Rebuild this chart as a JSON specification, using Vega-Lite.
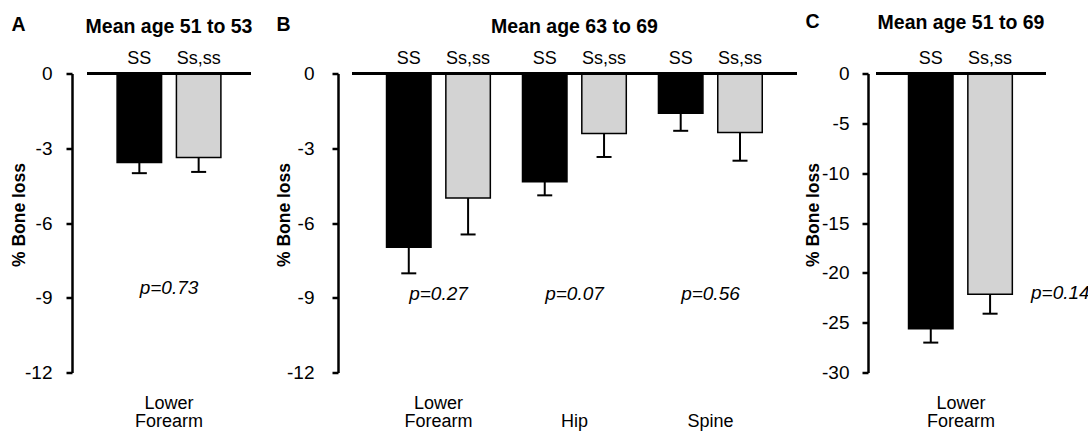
{
  "$schema": "https://vega.github.io/schema/vega-lite/v6.json",
  "padding": {"left": 10, "top": 10.5, "right": 0, "bottom": 0},
  "background": "white",
  "config": {
    "view": {"stroke": null},
    "font": "Liberation Sans",
    "axis": {"labelColor": "black", "titleColor": "black", "grid": false},
    "title": {"fontSize": 19.5, "fontWeight": "bold", "color": "black", "anchor": "middle", "frame": "group", "baseline": "alphabetic", "offset": -22.5}
  },
  "spacing": 5,
  "datasets": {
    "bars": [
      {"panel": "A", "site": "Lower Forearm", "genotype": "SS", "value": -3.57, "lower": -4.0},
      {"panel": "A", "site": "Lower Forearm", "genotype": "Ss,ss", "value": -3.37, "lower": -3.95},
      {"panel": "B", "site": "Lower Forearm", "genotype": "SS", "value": -6.97, "lower": -8.02},
      {"panel": "B", "site": "Lower Forearm", "genotype": "Ss,ss", "value": -5.0, "lower": -6.46},
      {"panel": "B", "site": "Hip", "genotype": "SS", "value": -4.34, "lower": -4.89},
      {"panel": "B", "site": "Hip", "genotype": "Ss,ss", "value": -2.41, "lower": -3.35},
      {"panel": "B", "site": "Spine", "genotype": "SS", "value": -1.6, "lower": -2.3},
      {"panel": "B", "site": "Spine", "genotype": "Ss,ss", "value": -2.37, "lower": -3.5},
      {"panel": "C", "site": "Lower Forearm", "genotype": "SS", "value": -25.6, "lower": -27.0},
      {"panel": "C", "site": "Lower Forearm", "genotype": "Ss,ss", "value": -22.15, "lower": -24.1}
    ],
    "pvals": [
      {"panel": "A", "site": "Lower Forearm", "label": "p=0.73"},
      {"panel": "B", "site": "Lower Forearm", "label": "p=0.27"},
      {"panel": "B", "site": "Hip", "label": "p=0.07"},
      {"panel": "B", "site": "Spine", "label": "p=0.56"},
      {"panel": "C", "site": "Lower Forearm", "label": "p=0.14"}
    ],
    "blank": [{}]
  },
  "hconcat": [
    {
      "spacing": 22,
      "hconcat": [
        {
          "width": 164,
          "height": 299,
          "title": {"text": "Mean age 51 to 53"},
          "layer": [
            {
              "data": {"name": "bars"},
              "transform": [{"filter": "datum.panel == 'A'"}],
              "mark": {"type": "bar", "stroke": "black", "strokeWidth": 1.5},
              "encoding": {
                "x": {"field": "site", "type": "nominal", "scale": {"domain": ["Lower Forearm"], "paddingInner": 0, "paddingOuter": 0.29},
                  "axis": {"title": "A", "titleX": -76, "titleY": -342, "titleAlign": "left", "titleBaseline": "alphabetic", "titleFontSize": 19.5, "titleFontWeight": "bold", "titleAngle": 0,
                    "domain": false, "ticks": false, "labelAngle": 0, "labelFontSize": 18, "labelPadding": 21.5, "labelLineHeight": 18, "labelBaseline": "top",
                    "labelExpr": "datum.label == 'Lower Forearm' ? ['Lower', 'Forearm'] : ['', datum.label]"}},
                "xOffset": {"field": "genotype", "type": "nominal", "scale": {"domain": ["SS", "Ss,ss"], "paddingInner": 0.25, "paddingOuter": 0}},
                "y": {"field": "value", "type": "quantitative", "scale": {"domain": [-12, 0], "nice": false, "zero": false},
                  "axis": {"title": "% Bone loss", "titleFontSize": 17.5, "titleFontWeight": "bold", "titleX": -48, "titleY": 141, "titleBaseline": "alphabetic",
                    "labelFontSize": 19, "labelPadding": 14, "labelExpr": "toString(datum.value)",
                    "domainColor": "black", "domainWidth": 2.5, "tickColor": "black", "tickWidth": 2.5, "tickSize": 6, "offset": 15, "values": [0, -3, -6, -9, -12]}},
                "color": {"field": "genotype", "type": "nominal", "scale": {"domain": ["SS", "Ss,ss"], "range": ["#000000", "#d3d3d3"]}, "legend": null}
              }
            },
            {
              "data": {"name": "bars"},
              "transform": [{"filter": "datum.panel == 'A'"}],
              "mark": {"type": "rule", "color": "black", "strokeWidth": 2},
              "encoding": {
                "x": {"field": "site", "type": "nominal", "scale": {"domain": ["Lower Forearm"], "paddingInner": 0, "paddingOuter": 0.29}},
                "xOffset": {"field": "genotype", "type": "nominal", "scale": {"domain": ["SS", "Ss,ss"], "paddingInner": 0.25, "paddingOuter": 0}},
                "y": {"field": "value", "type": "quantitative", "scale": {"domain": [-12, 0], "nice": false, "zero": false}},
                "y2": {"field": "lower"}
              }
            },
            {
              "data": {"name": "bars"},
              "transform": [{"filter": "datum.panel == 'A'"}],
              "mark": {"type": "tick", "color": "black", "thickness": 2, "size": 15, "orient": "horizontal", "opacity": 1},
              "encoding": {
                "x": {"field": "site", "type": "nominal", "scale": {"domain": ["Lower Forearm"], "paddingInner": 0, "paddingOuter": 0.29}},
                "xOffset": {"field": "genotype", "type": "nominal", "scale": {"domain": ["SS", "Ss,ss"], "paddingInner": 0.25, "paddingOuter": 0}},
                "y": {"field": "lower", "type": "quantitative", "scale": {"domain": [-12, 0], "nice": false, "zero": false}}
              }
            },
            {
              "data": {"name": "blank"},
              "mark": {"type": "rule", "color": "black", "strokeWidth": 3},
              "encoding": {"y": {"datum": 0, "type": "quantitative", "scale": {"domain": [-12, 0], "nice": false, "zero": false}}}
            },
            {
              "data": {"name": "bars"},
              "transform": [{"filter": "datum.panel == 'A'"}],
              "mark": {"type": "text", "fontSize": 18, "baseline": "alphabetic", "dy": -10, "color": "black"},
              "encoding": {
                "x": {"field": "site", "type": "nominal", "scale": {"domain": ["Lower Forearm"], "paddingInner": 0, "paddingOuter": 0.29}},
                "xOffset": {"field": "genotype", "type": "nominal", "scale": {"domain": ["SS", "Ss,ss"], "paddingInner": 0.25, "paddingOuter": 0}},
                "y": {"datum": 0, "type": "quantitative", "scale": {"domain": [-12, 0], "nice": false, "zero": false}},
                "text": {"field": "genotype"}
              }
            },
            {
              "data": {"name": "pvals"},
              "transform": [{"filter": "datum.panel == 'A'"}],
              "mark": {"type": "text", "fontSize": 19, "fontStyle": "italic", "baseline": "middle", "color": "black"},
              "encoding": {
                "x": {"field": "site", "type": "nominal", "scale": {"domain": ["Lower Forearm"], "paddingInner": 0, "paddingOuter": 0.29}},
                "y": {"datum": -8.6, "type": "quantitative", "scale": {"domain": [-12, 0], "nice": false, "zero": false}},
                "text": {"field": "label"}
              }
            }
          ]
        },
        {
          "width": 445,
          "height": 299,
          "title": {"text": "Mean age 63 to 69"},
          "layer": [
            {
              "data": {"name": "bars"},
              "transform": [{"filter": "datum.panel == 'B'"}],
              "mark": {"type": "bar", "stroke": "black", "strokeWidth": 1.5},
              "encoding": {
                "x": {"field": "site", "type": "nominal", "scale": {"domain": ["Lower Forearm", "Hip", "Spine"], "paddingInner": 0.235, "paddingOuter": 0.254},
                  "axis": {"title": "B", "titleX": -76, "titleY": -342, "titleAlign": "left", "titleBaseline": "alphabetic", "titleFontSize": 19.5, "titleFontWeight": "bold", "titleAngle": 0,
                    "domain": false, "ticks": false, "labelAngle": 0, "labelFontSize": 18, "labelPadding": 21.5, "labelLineHeight": 18, "labelBaseline": "top",
                    "labelExpr": "datum.label == 'Lower Forearm' ? ['Lower', 'Forearm'] : ['', datum.label]"}},
                "xOffset": {"field": "genotype", "type": "nominal", "scale": {"domain": ["SS", "Ss,ss"], "paddingInner": 0.25, "paddingOuter": 0}},
                "y": {"field": "value", "type": "quantitative", "scale": {"domain": [-12, 0], "nice": false, "zero": false},
                  "axis": {"title": "% Bone loss", "titleFontSize": 17.5, "titleFontWeight": "bold", "titleX": -49, "titleY": 141, "titleBaseline": "alphabetic",
                    "labelFontSize": 19, "labelPadding": 18, "labelExpr": "toString(datum.value)",
                    "domainColor": "black", "domainWidth": 2.5, "tickColor": "black", "tickWidth": 2.5, "tickSize": 6, "offset": 14, "values": [0, -3, -6, -9, -12]}},
                "color": {"field": "genotype", "type": "nominal", "scale": {"domain": ["SS", "Ss,ss"], "range": ["#000000", "#d3d3d3"]}, "legend": null}
              }
            },
            {
              "data": {"name": "bars"},
              "transform": [{"filter": "datum.panel == 'B'"}],
              "mark": {"type": "rule", "color": "black", "strokeWidth": 2},
              "encoding": {
                "x": {"field": "site", "type": "nominal", "scale": {"domain": ["Lower Forearm", "Hip", "Spine"], "paddingInner": 0.235, "paddingOuter": 0.254}},
                "xOffset": {"field": "genotype", "type": "nominal", "scale": {"domain": ["SS", "Ss,ss"], "paddingInner": 0.25, "paddingOuter": 0}},
                "y": {"field": "value", "type": "quantitative", "scale": {"domain": [-12, 0], "nice": false, "zero": false}},
                "y2": {"field": "lower"}
              }
            },
            {
              "data": {"name": "bars"},
              "transform": [{"filter": "datum.panel == 'B'"}],
              "mark": {"type": "tick", "color": "black", "thickness": 2, "size": 15, "orient": "horizontal", "opacity": 1},
              "encoding": {
                "x": {"field": "site", "type": "nominal", "scale": {"domain": ["Lower Forearm", "Hip", "Spine"], "paddingInner": 0.235, "paddingOuter": 0.254}},
                "xOffset": {"field": "genotype", "type": "nominal", "scale": {"domain": ["SS", "Ss,ss"], "paddingInner": 0.25, "paddingOuter": 0}},
                "y": {"field": "lower", "type": "quantitative", "scale": {"domain": [-12, 0], "nice": false, "zero": false}}
              }
            },
            {
              "data": {"name": "blank"},
              "mark": {"type": "rule", "color": "black", "strokeWidth": 3},
              "encoding": {"y": {"datum": 0, "type": "quantitative", "scale": {"domain": [-12, 0], "nice": false, "zero": false}}}
            },
            {
              "data": {"name": "bars"},
              "transform": [{"filter": "datum.panel == 'B'"}],
              "mark": {"type": "text", "fontSize": 18, "baseline": "alphabetic", "dy": -10, "color": "black"},
              "encoding": {
                "x": {"field": "site", "type": "nominal", "scale": {"domain": ["Lower Forearm", "Hip", "Spine"], "paddingInner": 0.235, "paddingOuter": 0.254}},
                "xOffset": {"field": "genotype", "type": "nominal", "scale": {"domain": ["SS", "Ss,ss"], "paddingInner": 0.25, "paddingOuter": 0}},
                "y": {"datum": 0, "type": "quantitative", "scale": {"domain": [-12, 0], "nice": false, "zero": false}},
                "text": {"field": "genotype"}
              }
            },
            {
              "data": {"name": "pvals"},
              "transform": [{"filter": "datum.panel == 'B'"}],
              "mark": {"type": "text", "fontSize": 19, "fontStyle": "italic", "baseline": "middle", "color": "black"},
              "encoding": {
                "x": {"field": "site", "type": "nominal", "scale": {"domain": ["Lower Forearm", "Hip", "Spine"], "paddingInner": 0.235, "paddingOuter": 0.254}},
                "y": {"datum": -8.85, "type": "quantitative", "scale": {"domain": [-12, 0], "nice": false, "zero": false}},
                "text": {"field": "label"}
              }
            }
          ]
        }
      ]
    },
    {
      "width": 170,
      "height": 299,
      "title": {"text": "Mean age 51 to 69"},
      "layer": [
        {
          "data": {"name": "bars"},
          "transform": [{"filter": "datum.panel == 'C'"}],
          "mark": {"type": "bar", "stroke": "black", "strokeWidth": 1.5},
          "encoding": {
            "x": {"field": "site", "type": "nominal", "scale": {"domain": ["Lower Forearm"], "paddingInner": 0, "paddingOuter": 0.31},
              "axis": {"title": "C", "titleX": -71, "titleY": -345.5, "titleAlign": "left", "titleBaseline": "alphabetic", "titleFontSize": 19.5, "titleFontWeight": "bold", "titleAngle": 0,
                "domain": false, "ticks": false, "labelAngle": 0, "labelFontSize": 18, "labelPadding": 21.5, "labelLineHeight": 18, "labelBaseline": "top",
                "labelExpr": "datum.label == 'Lower Forearm' ? ['Lower', 'Forearm'] : ['', datum.label]"}},
            "xOffset": {"field": "genotype", "type": "nominal", "scale": {"domain": ["SS", "Ss,ss"], "paddingInner": 0.25, "paddingOuter": 0}},
            "y": {"field": "value", "type": "quantitative", "scale": {"domain": [-30, 0], "nice": false, "zero": false},
              "axis": {"title": "% Bone loss", "titleFontSize": 17.5, "titleFontWeight": "bold", "titleX": -50, "titleY": 141, "titleBaseline": "alphabetic",
                "labelFontSize": 19, "labelPadding": 13, "labelExpr": "toString(datum.value)",
                "domainColor": "black", "domainWidth": 2.5, "tickColor": "black", "tickWidth": 2.5, "tickSize": 6, "offset": 8, "values": [0, -5, -10, -15, -20, -25, -30]}},
            "color": {"field": "genotype", "type": "nominal", "scale": {"domain": ["SS", "Ss,ss"], "range": ["#000000", "#d3d3d3"]}, "legend": null}
          }
        },
        {
          "data": {"name": "bars"},
          "transform": [{"filter": "datum.panel == 'C'"}],
          "mark": {"type": "rule", "color": "black", "strokeWidth": 2},
          "encoding": {
            "x": {"field": "site", "type": "nominal", "scale": {"domain": ["Lower Forearm"], "paddingInner": 0, "paddingOuter": 0.31}},
            "xOffset": {"field": "genotype", "type": "nominal", "scale": {"domain": ["SS", "Ss,ss"], "paddingInner": 0.25, "paddingOuter": 0}},
            "y": {"field": "value", "type": "quantitative", "scale": {"domain": [-30, 0], "nice": false, "zero": false}},
            "y2": {"field": "lower"}
          }
        },
        {
          "data": {"name": "bars"},
          "transform": [{"filter": "datum.panel == 'C'"}],
          "mark": {"type": "tick", "color": "black", "thickness": 2, "size": 15, "orient": "horizontal", "opacity": 1},
          "encoding": {
            "x": {"field": "site", "type": "nominal", "scale": {"domain": ["Lower Forearm"], "paddingInner": 0, "paddingOuter": 0.31}},
            "xOffset": {"field": "genotype", "type": "nominal", "scale": {"domain": ["SS", "Ss,ss"], "paddingInner": 0.25, "paddingOuter": 0}},
            "y": {"field": "lower", "type": "quantitative", "scale": {"domain": [-30, 0], "nice": false, "zero": false}}
          }
        },
        {
          "data": {"name": "blank"},
          "mark": {"type": "rule", "color": "black", "strokeWidth": 3},
          "encoding": {"y": {"datum": 0, "type": "quantitative", "scale": {"domain": [-30, 0], "nice": false, "zero": false}}}
        },
        {
          "data": {"name": "bars"},
          "transform": [{"filter": "datum.panel == 'C'"}],
          "mark": {"type": "text", "fontSize": 18, "baseline": "alphabetic", "dy": -10, "color": "black"},
          "encoding": {
            "x": {"field": "site", "type": "nominal", "scale": {"domain": ["Lower Forearm"], "paddingInner": 0, "paddingOuter": 0.31}},
            "xOffset": {"field": "genotype", "type": "nominal", "scale": {"domain": ["SS", "Ss,ss"], "paddingInner": 0.25, "paddingOuter": 0}},
            "y": {"datum": 0, "type": "quantitative", "scale": {"domain": [-30, 0], "nice": false, "zero": false}},
            "text": {"field": "genotype"}
          }
        },
        {
          "data": {"name": "pvals"},
          "transform": [{"filter": "datum.panel == 'C'"}],
          "mark": {"type": "text", "fontSize": 19, "fontStyle": "italic", "baseline": "middle", "align": "left", "dx": 70, "color": "black"},
          "encoding": {
            "x": {"field": "site", "type": "nominal", "scale": {"domain": ["Lower Forearm"], "paddingInner": 0, "paddingOuter": 0.31}},
            "y": {"datum": -22.07, "type": "quantitative", "scale": {"domain": [-30, 0], "nice": false, "zero": false}},
            "text": {"field": "label"}
          }
        }
      ]
    }
  ]
}
